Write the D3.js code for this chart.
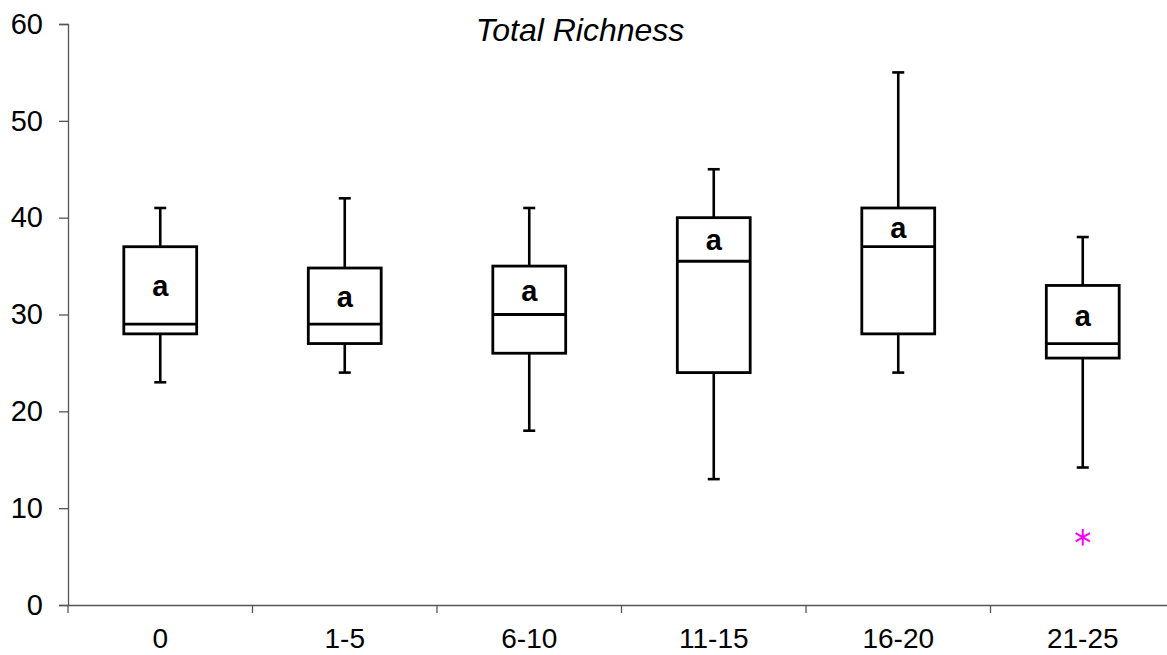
<!DOCTYPE html>
<html>
<head>
<meta charset="utf-8">
<script src="https://cdn.jsdelivr.net/npm/d3@7"></script>
<style>
  body { margin: 0; background: #fff; }
  svg { display: block; font-family: Arial, "Liberation Sans", sans-serif; }
</style>
</head>
<body>
<div id="chart"></div>
<script>
// Data
var categories = ["0", "1-5", "6-10", "11-15", "16-20", "21-25"];
var whiskerLow = [23, 24, 18, 13, 24, 14.2];
var q1 = [28, 27, 26, 24, 28, 25.5];
var median = [29, 29, 30, 35.5, 37, 27];
var q3 = [37, 34.8, 35, 40, 41, 33];
var whiskerHigh = [41, 42, 41, 45, 55, 38];
var groupLetters = ["a", "a", "a", "a", "a", "a"];
var outliers = [{ cat: "21-25", value: 7 }];
var yTicks = [0, 10, 20, 30, 40, 50, 60];

var svgWidth = 1167;
var svgHeight = 655;

var margin = { top: 24, right: -8, bottom: 50, left: 68 };

var width = svgWidth - margin.left - margin.right;
var height = svgHeight - margin.top - margin.bottom;

var svg = d3.select("#chart")
  .append("svg")
  .attr("width", svgWidth)
  .attr("height", svgHeight);

var chartGroup = svg.append("g")
  .attr("transform", `translate(${margin.left}, ${margin.top})`);

var boxes = categories.map(function(c, i) {
  return {
    cat: c, lo: whiskerLow[i], q1: q1[i], med: median[i],
    q3: q3[i], hi: whiskerHigh[i], letter: groupLetters[i]
  };
});

// Scales
var xScale = d3.scaleBand()
  .domain(categories)
  .range([0, width])
  .padding(0);

var yScale = d3.scaleLinear()
  .domain([0, 60])
  .range([height, 0]);

var boxW = xScale.bandwidth() * 0.395;
var capW = 12;

// Y axis
var leftAxis = d3.axisLeft(yScale)
  .tickValues(yTicks)
  .tickSize(9)
  .tickPadding(16);

var yAxisG = chartGroup.append("g").call(leftAxis);
yAxisG.select(".domain").attr("stroke", "#555").attr("stroke-width", 1.3);
yAxisG.selectAll(".tick line").attr("stroke", "#555").attr("stroke-width", 1.3);
yAxisG.selectAll(".tick text")
  .attr("fill", "#000")
  .style("font-size", "29px")
  .style("font-family", "Arial, 'Liberation Sans', sans-serif");

// X axis: labels centred, ticks on category boundaries
var bottomAxis = d3.axisBottom(xScale)
  .tickSize(0)
  .tickPadding(23.5);

var xAxisG = chartGroup.append("g")
  .attr("transform", `translate(0, ${height})`)
  .call(bottomAxis);
xAxisG.select(".domain").attr("stroke", "#555").attr("stroke-width", 1.3);
xAxisG.selectAll(".tick text")
  .attr("fill", "#000")
  .style("font-size", "28px")
  .style("font-family", "Arial, 'Liberation Sans', sans-serif");

var boundaries = categories.map(function(c) { return xScale(c); }).concat([xScale.range()[1]]);
xAxisG.selectAll("line.boundary")
  .data(boundaries)
  .enter()
  .append("line")
  .attr("class", "boundary")
  .attr("x1", d => d)
  .attr("x2", d => d)
  .attr("y1", 0)
  .attr("y2", 8)
  .attr("stroke", "#555")
  .attr("stroke-width", 1.3);

// Boxes
var boxG = chartGroup.selectAll("g.box")
  .data(boxes)
  .enter()
  .append("g")
  .attr("class", "box")
  .attr("transform", d => `translate(${xScale(d.cat) + xScale.bandwidth() / 2}, 0)`);

// whiskers
boxG.append("line")
  .attr("x1", 0).attr("x2", 0)
  .attr("y1", d => yScale(d.hi))
  .attr("y2", d => yScale(d.q3))
  .attr("stroke", "#000").attr("stroke-width", 2.6);

boxG.append("line")
  .attr("x1", 0).attr("x2", 0)
  .attr("y1", d => yScale(d.q1))
  .attr("y2", d => yScale(d.lo))
  .attr("stroke", "#000").attr("stroke-width", 2.6);

boxG.append("line")
  .attr("x1", -capW / 2).attr("x2", capW / 2)
  .attr("y1", d => yScale(d.hi))
  .attr("y2", d => yScale(d.hi))
  .attr("stroke", "#000").attr("stroke-width", 2.6);

boxG.append("line")
  .attr("x1", -capW / 2).attr("x2", capW / 2)
  .attr("y1", d => yScale(d.lo))
  .attr("y2", d => yScale(d.lo))
  .attr("stroke", "#000").attr("stroke-width", 2.6);

// box
boxG.append("rect")
  .attr("x", -boxW / 2)
  .attr("width", boxW)
  .attr("y", d => yScale(d.q3))
  .attr("height", d => yScale(d.q1) - yScale(d.q3))
  .attr("fill", "#fff")
  .attr("stroke", "#000")
  .attr("stroke-width", 2.8);

// median
boxG.append("line")
  .attr("x1", -boxW / 2).attr("x2", boxW / 2)
  .attr("y1", d => yScale(d.med))
  .attr("y2", d => yScale(d.med))
  .attr("stroke", "#000").attr("stroke-width", 2.8);

// group letters, between median and upper quartile
boxG.append("text")
  .attr("x", 0)
  .attr("y", d => yScale((d.med + d.q3) / 2) + 11)
  .attr("text-anchor", "middle")
  .style("font-size", "29px")
  .style("font-weight", "bold")
  .text(d => d.letter);

// Outliers
var asterisk = d3.symbol().type(d3.symbolAsterisk).size(190);
chartGroup.selectAll("path.outlier")
  .data(outliers)
  .enter()
  .append("path")
  .attr("class", "outlier")
  .attr("d", asterisk)
  .attr("transform", d => `translate(${xScale(d.cat) + xScale.bandwidth() / 2}, ${yScale(d.value)})`)
  .attr("fill", "none")
  .attr("stroke", "#ff00ff")
  .attr("stroke-width", 2);

// Title
svg.append("text")
  .attr("x", 580)
  .attr("y", 41)
  .attr("text-anchor", "middle")
  .style("font-size", "32px")
  .style("font-style", "italic")
  .text("Total Richness");
</script>
</body>
</html>
